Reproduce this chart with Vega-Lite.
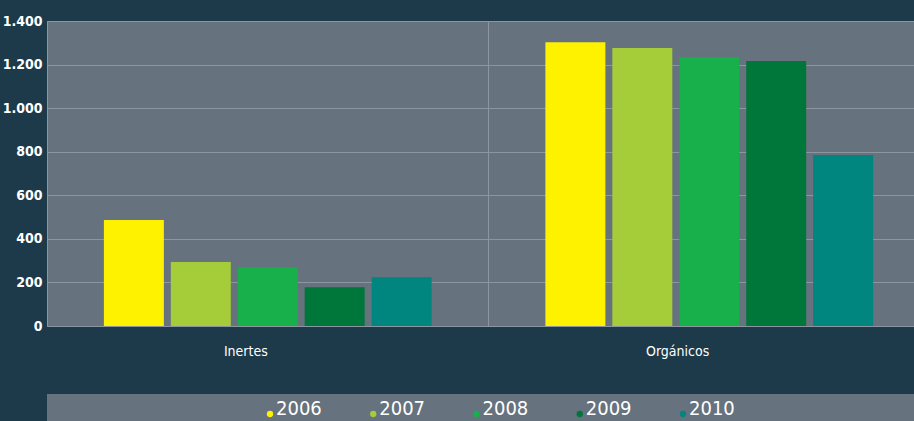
{
  "$schema": "https://vega.github.io/schema/vega-lite/v6.json",
  "background": "#1c3a4a",
  "padding": {"left": 1, "top": 13, "right": 0, "bottom": 0},
  "config": {
    "view": {"stroke": "#8c96a0", "fill": "#66727e"},
    "font": "DejaVu Sans Condensed, DejaVu Sans, sans-serif"
  },
  "spacing": 35,
  "vconcat": [
    {
      "width": 883,
      "height": 305,
      "layer": [
        {
          "data": {"values": [{"cat": "Orgánicos"}]},
          "mark": {"type": "rule", "color": "#8c96a0", "strokeWidth": 1},
          "encoding": {
            "x": {"field": "cat", "type": "nominal", "bandPosition": 0, "sort": ["Inertes", "Orgánicos"]}
          }
        },
        {
          "data": {"values": [
            {"cat": "Inertes", "year": "2006", "value": 486},
            {"cat": "Inertes", "year": "2007", "value": 294},
            {"cat": "Inertes", "year": "2008", "value": 268},
            {"cat": "Inertes", "year": "2009", "value": 178},
            {"cat": "Inertes", "year": "2010", "value": 224},
            {"cat": "Orgánicos", "year": "2006", "value": 1303},
            {"cat": "Orgánicos", "year": "2007", "value": 1276},
            {"cat": "Orgánicos", "year": "2008", "value": 1234},
            {"cat": "Orgánicos", "year": "2009", "value": 1216},
            {"cat": "Orgánicos", "year": "2010", "value": 785}
          ]},
          "mark": {"type": "bar"},
          "encoding": {
            "x": {
              "field": "cat", "type": "nominal", "sort": ["Inertes", "Orgánicos"],
              "scale": {"paddingInner": 0, "paddingOuter": 0},
              "axis": {
                "title": null, "labelAngle": 0, "domain": false, "ticks": false, "grid": false,
                "labelColor": "#ffffff", "labelFontSize": 14, "labelPadding": 25,
                "labelFont": "DejaVu Sans Condensed, DejaVu Sans, sans-serif"
              }
            },
            "xOffset": {
              "field": "year", "type": "nominal",
              "scale": {"paddingInner": 0.104, "paddingOuter": 0.85}
            },
            "y": {
              "field": "value", "type": "quantitative",
              "scale": {"domain": [0, 1400]},
              "axis": {
                "title": null, "values": [0, 200, 400, 600, 800, 1000, 1200, 1400],
                "domain": false, "ticks": false, "grid": true, "gridColor": "#8c96a0", "gridOpacity": 1,
                "labelColor": "#ffffff", "labelFontSize": 14, "labelFontWeight": "bold",
                "labelFont": "DejaVu Sans Condensed, DejaVu Sans, sans-serif", "labelPadding": 5,
                "labelExpr": "replace(format(datum.value, ','), ',', '.')"
              }
            },
            "color": {
              "field": "year", "type": "nominal",
              "scale": {"domain": ["2006", "2007", "2008", "2009", "2010"],
                        "range": ["#fff200", "#a4cd39", "#17b04b", "#00773a", "#00857f"]},
              "legend": null
            }
          }
        }
      ]
    },
    {
      "width": 867,
      "height": 40,
      "data": {"values": [
        {"year": "2006"}, {"year": "2007"}, {"year": "2008"}, {"year": "2009"}, {"year": "2010"}
      ]},
      "view": {"stroke": null, "fill": "#66727e"},
      "encoding": {
        "x": {"field": "year", "type": "ordinal", "scale": {"type": "point", "padding": 0, "range": [223, 636]}, "axis": null}
      },
      "layer": [
        {
          "mark": {"type": "circle", "size": 40, "opacity": 1, "dy": -4},
          "encoding": {
            "color": {
              "field": "year", "type": "nominal",
              "scale": {"domain": ["2006", "2007", "2008", "2009", "2010"],
                        "range": ["#fff200", "#a4cd39", "#17b04b", "#00773a", "#00857f"]},
              "legend": null
            }
          }
        },
        {
          "mark": {"type": "text", "align": "left", "baseline": "middle", "dx": 6, "dy": -5,
                   "fontSize": 20, "color": "#ffffff", "font": "DejaVu Sans Condensed, DejaVu Sans, sans-serif"},
          "encoding": {"text": {"field": "year"}}
        }
      ]
    }
  ]
}
